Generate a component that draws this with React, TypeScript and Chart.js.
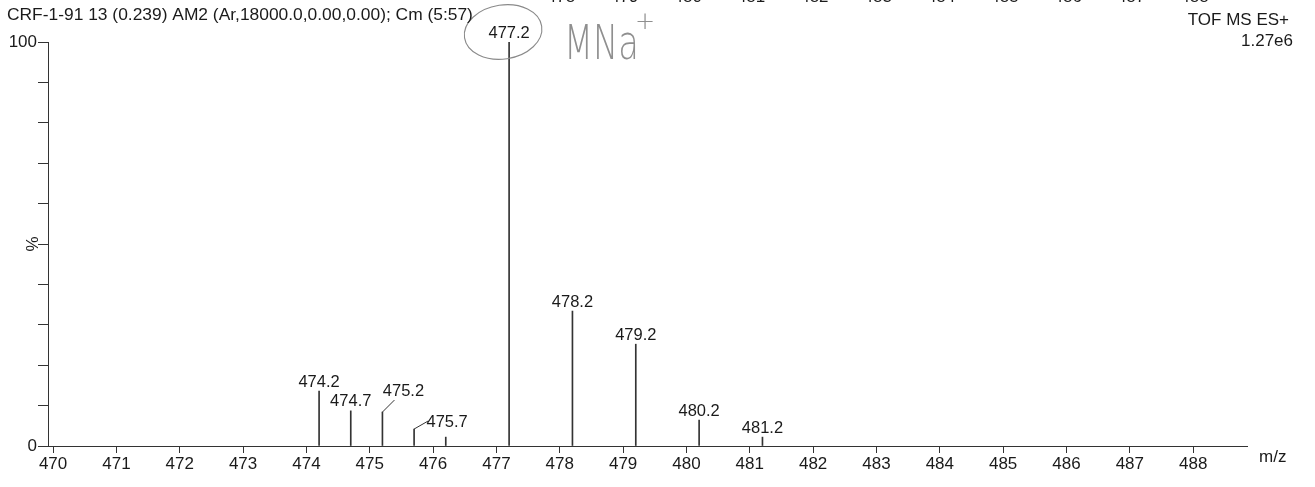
import React, { useEffect, useRef } from 'react';
import { Chart, registerables } from 'chart.js';

Chart.register(...registerables);

// ---- Data ----
const mzValues = [474.2, 474.7, 475.2, 475.7, 476.2, 477.2, 478.2, 479.2, 480.2, 481.2];
const intensities = [13.6, 8.7, 8.4, 4.2, 2.2, 100, 33.4, 25.2, 6.4, 2.2];
const peakLabels = ['474.2', '474.7', '475.2', '475.7', '', '477.2', '478.2', '479.2', '480.2', '481.2'];
const xTickValues = [470, 471, 472, 473, 474, 475, 476, 477, 478, 479, 480, 481, 482, 483, 484, 485, 486, 487, 488];
const yTickValues = [0, 10, 20, 30, 40, 50, 60, 70, 80, 90, 100];
const yLabelledTicks = [0, 100];
const cutOffTicks = [478, 479, 480, 481, 482, 483, 484, 485, 486, 487, 488];

const titleText = 'CRF-1-91 13 (0.239) AM2 (Ar,18000.0,0.00,0.00); Cm (5:57)';
const instrumentText = 'TOF MS ES+';
const scaleText = '1.27e6';
const xAxisUnit = 'm/z';
const yAxisTitle = '%';
const annotationText = 'MNa';
const annotatedPeak = '477.2';

// label placement styles (offsets relative to peak top), with leader lines
const labelLeaders: Record<string, { dx: number; dy: number; lx: number; ly: number }> = {
  '475.2': { dx: 21, dy: -21, lx: 12, ly: -12 },
  '475.7': { dx: 33, dy: -7, lx: 14, ly: -8 },
};

const FONT = "'Liberation Sans', Arial, sans-serif";
const INK = '#1a1a1a';

const overlayPlugin = {
  id: 'overlay',
  afterDatasetsDraw(chart: any) {
    const { ctx, scales } = chart;
    const xs = scales.x;
    const ys = scales.y;
    ctx.save();
    ctx.fillStyle = INK;
    ctx.strokeStyle = '#333';
    ctx.lineWidth = 1;
    ctx.font = `16.5px ${FONT}`;
    ctx.textAlign = 'center';
    ctx.textBaseline = 'middle';
    let annX = 0;
    let annY = 0;
    mzValues.forEach((mz, i) => {
      const label = peakLabels[i];
      if (!label) return;
      const px = xs.getPixelForValue(mz);
      const py = ys.getPixelForValue(intensities[i]);
      const lead = labelLeaders[label];
      if (lead) {
        ctx.beginPath();
        ctx.moveTo(px, py);
        ctx.lineTo(px + lead.lx, py + lead.ly);
        ctx.stroke();
        ctx.fillText(label, px + lead.dx, py + lead.dy);
      } else {
        ctx.fillText(label, px, py - 9);
      }
      if (label === annotatedPeak) {
        annX = px;
        annY = py - 9;
      }
    });

    // handwritten annotation
    ctx.strokeStyle = '#8a8a8a';
    ctx.lineWidth = 1.1;
    ctx.beginPath();
    ctx.ellipse(annX - 6, annY - 1, 39, 27, -0.15, 0, Math.PI * 2);
    ctx.stroke();
    ctx.fillStyle = '#8f8f8f';
    ctx.save();
    ctx.translate(annX + 55, annY + 26);
    ctx.scale(0.7, 1);
    ctx.textAlign = 'left';
    ctx.textBaseline = 'alphabetic';
    ctx.font = `200 48px 'DejaVu Sans', sans-serif`;
    ctx.fillText(annotationText, 0, 0);
    ctx.restore();
    ctx.font = `200 24px 'DejaVu Sans', sans-serif`;
    ctx.textAlign = 'left';
    ctx.textBaseline = 'alphabetic';
    ctx.fillText('+', annX + 126, annY - 4);

    // y axis title
    ctx.fillStyle = INK;
    ctx.save();
    ctx.translate(33, ys.getPixelForValue(50));
    ctx.rotate(-Math.PI / 2);
    ctx.textAlign = 'center';
    ctx.textBaseline = 'middle';
    ctx.font = `17px ${FONT}`;
    ctx.fillText(yAxisTitle, 0, 0);
    ctx.restore();

    // x axis unit
    ctx.font = `17px ${FONT}`;
    ctx.textAlign = 'left';
    ctx.textBaseline = 'middle';
    ctx.fillText(xAxisUnit, xs.right + 12, ys.bottom + 11);

    // header texts
    ctx.font = `17.4px ${FONT}`;
    ctx.fillText(titleText, 7, 15);
    ctx.font = `17px ${FONT}`;
    ctx.textAlign = 'right';
    ctx.fillText(instrumentText, 1289, 20);
    ctx.fillText(scaleText, 1293, 41);

    // cut-off tick labels from the previous page at the very top
    ctx.textAlign = 'center';
    ctx.textBaseline = 'alphabetic';
    cutOffTicks.forEach((v) => {
      ctx.fillText(String(v), xs.getPixelForValue(v + 0.02), 1.5);
    });
    ctx.restore();
  },
};

export default function App() {
  const ref = useRef<HTMLCanvasElement>(null);
  useEffect(() => {
    const chart = new Chart(ref.current as HTMLCanvasElement, {
      type: 'bar',
      data: {
        datasets: [
          {
            data: mzValues.map((x, i) => ({ x, y: intensities[i] })),
            backgroundColor: '#333',
            borderWidth: 0,
            barThickness: 1,
          } as any,
        ],
      },
      options: {
        responsive: false,
        animation: false,
        layout: { padding: { left: 0, right: 68, top: 42, bottom: 0 } },
        plugins: { legend: { display: false }, tooltip: { enabled: false }, title: { display: false } },
        scales: {
          x: {
            type: 'linear',
            min: 469.92,
            max: 488.85,
            offset: false,
            afterBuildTicks: (s: any) => {
              s.ticks = xTickValues.map((v) => ({ value: v }));
            },
            afterFit: (s: any) => {
              s.height = 41;
            },
            grid: { offset: false, drawOnChartArea: false, drawTicks: true, tickLength: 7, color: '#333', tickColor: '#333' },
            border: { display: true, color: '#333', width: 1 },
            ticks: {
              color: INK,
              font: { family: FONT, size: 17 },
              padding: 1,
              maxRotation: 0,
              autoSkip: false,
              callback: (v: any) => String(v),
            },
          },
          y: {
            type: 'linear',
            min: 0,
            max: 100,
            afterBuildTicks: (s: any) => {
              s.ticks = yTickValues.map((v) => ({ value: v }));
            },
            afterFit: (s: any) => {
              s.width = 48;
            },
            grid: { drawOnChartArea: false, drawTicks: true, tickLength: 10, color: '#333', tickColor: '#333' },
            border: { display: true, color: '#333', width: 1 },
            ticks: {
              color: INK,
              font: { family: FONT, size: 17 },
              padding: 1,
              callback: (v: any) => (yLabelledTicks.includes(Number(v)) ? String(v) : ''),
            },
          },
        },
      } as any,
      plugins: [overlayPlugin],
    });
    return () => chart.destroy();
  }, []);

  return (
    <div style={{ position: 'fixed', left: 0, top: 0, width: 1315, height: 487, background: '#fff' }}>
      <canvas ref={ref} width={1315} height={487} style={{ width: 1315, height: 487, display: 'block' }} />
    </div>
  );
}
